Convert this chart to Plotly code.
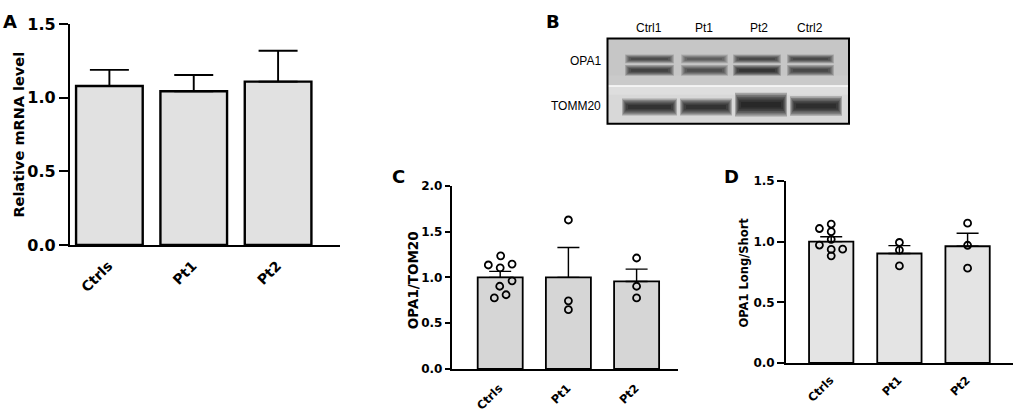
import plotly.graph_objects as go

W, H = 1017, 413

groups = ["Ctrls", "Pt1", "Pt2"]

# panel A - relative mRNA level
mrna_mean = [1.08, 1.045, 1.11]
mrna_sem = [0.11, 0.11, 0.21]

# panel C - OPA1/TOM20
c_mean = [1.0, 1.0, 0.955]
c_sem = [0.065, 0.325, 0.135]
c_ctrls = [1.135, 1.235, 1.104, 1.145, 0.962, 0.903, 0.775, 0.81]
c_pt1 = [1.626, 0.744, 0.647]
c_pt2 = [1.211, 0.903, 0.775]

# panel D - OPA1 long/short
d_mean = [1.0, 0.902, 0.962]
d_sem = [0.04, 0.065, 0.107]
d_ctrls = [1.108, 1.145, 1.082, 1.019, 0.972, 0.938, 0.936, 0.883]
d_pt1 = [0.993, 0.930, 0.800]
d_pt2 = [1.152, 0.970, 0.781]

# panel B - blot lanes and relative band darkness
lanes = ["Ctrl1", "Pt1", "Pt2", "Ctrl2"]
opa1_long = [0.8, 0.6, 0.85, 0.85]
opa1_short = [0.85, 0.7, 1.0, 0.8]
tomm20 = [0.85, 0.85, 1.0, 0.95]

# horizontal scatter offsets of the dots inside a bar
c_jit = [-0.174, 0.007, 0.0, 0.174, 0.174, -0.007, -0.086, 0.086]
d_jit = [-0.173, 0.0, 0.0, 0.0, -0.173, 0.168, 0.0, 0.0]


def px(x):
    return x / W


def py(y):
    return 1 - y / H


FONT = "DejaVu Sans"
xs = [0, 1, 2]

fig = go.Figure()


def bars(mean, sem, fill, lw, width, cap, ax):
    fig.add_trace(go.Bar(
        x=xs, y=mean, width=width,
        marker=dict(color=fill, line=dict(color="black", width=lw)),
        error_y=dict(type="data", array=sem, arrayminus=[0] * len(sem),
                     symmetric=False, color="black", thickness=lw * 0.8,
                     width=cap),
        xaxis="x" + ax, yaxis="y" + ax, showlegend=False, hoverinfo="skip",
    ))


def dots(vals, idx, jit, ax):
    xv = [idx + (jit[i] if jit else 0) for i in range(len(vals))]
    fig.add_trace(go.Scatter(
        x=xv, y=vals, mode="markers",
        marker=dict(symbol="circle-open", size=7, color="black",
                    line=dict(width=1.8, color="black")),
        xaxis="x" + ax, yaxis="y" + ax, showlegend=False, hoverinfo="skip",
    ))


bars(mrna_mean, mrna_sem, "#e1e1e1", 2.4, 0.79, 19.5, "")
bars(c_mean, c_sem, "#d6d6d6", 1.8, 0.66, 11, "2")
dots(c_ctrls, 0, c_jit, "2")
dots(c_pt1, 1, None, "2")
dots(c_pt2, 2, None, "2")
bars(d_mean, d_sem, "#e4e4e4", 1.8, 0.65, 11, "3")
dots(d_ctrls, 0, d_jit, "3")
dots(d_pt1, 1, None, "3")
dots(d_pt2, 2, None, "3")


def xax(dom, rng, fs, lw, anchor, shift, stand):
    return dict(domain=dom, range=rng, anchor=anchor, showgrid=False,
                zeroline=False, showline=True, linecolor="black",
                linewidth=lw, tickmode="array", tickvals=xs,
                ticktext=groups, tickangle=-45, ticks="",
                ticklabelshift=shift, ticklabelstandoff=stand,
                tickfont=dict(family=FONT, size=fs, color="black",
                              weight="bold"))


def yax(dom, rng, fs, lw, tl, anchor):
    return dict(domain=dom, range=rng, anchor=anchor, showgrid=False,
                zeroline=False, showline=True, linecolor="black",
                linewidth=lw, dtick=0.5, tickformat=".1f",
                ticks="outside", ticklen=tl, tickwidth=lw,
                tickcolor="black",
                tickfont=dict(family=FONT, size=fs, color="black",
                              weight="bold"))


fig.update_layout(
    width=W, height=H, margin=dict(l=0, r=0, t=0, b=0),
    plot_bgcolor="white", paper_bgcolor="white", barmode="overlay",
    xaxis=xax([px(70), px(340)], [-0.467, 2.734], 14, 2.4, "y", -1, 5),
    yaxis=yax([py(248), py(16)], [0, 1.5], 16, 2.4, 9, "x"),
    xaxis2=xax([px(451.7), px(678)], [-0.711, 2.607], 11.5, 1.8, "y2", -1, 6),
    yaxis2=yax([py(378.3), py(185.7)], [0, 2.0], 12, 1.8, 5, "x2"),
    xaxis3=xax([px(786), px(1013)], [-0.663, 2.666], 11.5, 1.8, "y3", -1, 4),
    yaxis3=yax([py(372), py(180.7)], [0, 1.5], 12, 1.8, 7, "x3"),
)

ann = []


def text(x, y, s, size, bold=True, angle=0, xanchor="center", family=FONT):
    ann.append(dict(x=px(x), y=py(y), xref="paper", yref="paper", text=s,
                    showarrow=False, textangle=angle, xanchor=xanchor,
                    yanchor="middle",
                    font=dict(family=family, size=size, color="black",
                              weight="bold" if bold else "normal")))


# panel letters
text(10, 13, "A", 18)
text(553, 13, "B", 18)
text(398, 176, "C", 18)
text(731.5, 176.5, "D", 18)

# y axis titles
text(19, 132, "Relative mRNA level", 14.5, angle=-90)
text(413, 285, "OPA1/TOM20", 13.5, angle=-90)
text(744, 277, "OPA1 Long/Short", 11.5, angle=-90)

# blot labels
lane_x = [649, 704, 758.7, 810]
for name, lx in zip(lanes, lane_x):
    text(lx, 20, name, 12, bold=False, family="Liberation Sans")
text(603, 55, "OPA1", 12, bold=False, xanchor="right", family="Liberation Sans")
text(603, 102, "TOMM20", 12, bold=False, xanchor="right", family="Liberation Sans")

fig.update_layout(annotations=ann)

shapes = []


def rect(x0, y0, x1, y1, fill, op=1.0):
    shapes.append(dict(type="rect", xref="paper", yref="paper",
                       x0=px(x0), x1=px(x1), y0=py(y1), y1=py(y0),
                       fillcolor=fill, opacity=op, layer="above",
                       line=dict(width=0)))


# soft band built from stacked translucent strips: (x pad, height factor)
BAND_LAYERS = [(3, 2.4), (2, 2.0), (1, 1.6), (0, 1.25), (-1, 0.9), (-3, 0.55)]


def band(x0, x1, yc, h, k, base):
    for pad, grow in BAND_LAYERS:
        hh = h * grow / 2
        rect(x0 - pad, yc - hh, x1 + pad, yc + hh, "#0a0a0a", op=base * k)


# blot background
rect(607.5, 31, 849, 80, "#c6c6c6")
rect(607.5, 70, 849, 80, "#cacaca")
rect(607.5, 80, 849, 82, "#f4f4f4")
rect(607.5, 82, 849, 120.5, "#d8d8d8")
rect(607.5, 82, 849, 90, "#dedede")

opa_x = [(628, 671), (684, 725), (736, 778), (790, 831)]
tom_x = [(625, 674), (683, 729), (738, 784), (793, 839)]
tom_y = [103, 103, 100.5, 102]
tom_h = [7.5, 7.5, 10.5, 8.5]
for i in range(4):
    band(opa_x[i][0], opa_x[i][1], 52.5, 3.8, opa1_long[i], 0.2)
    band(opa_x[i][0], opa_x[i][1], 64.5, 4.8, opa1_short[i], 0.21)
    band(tom_x[i][0], tom_x[i][1], tom_y[i], tom_h[i], tomm20[i], 0.27)

# blot frame
shapes.append(dict(type="rect", xref="paper", yref="paper",
                   x0=px(607.5), x1=px(849), y0=py(120.5), y1=py(31),
                   line=dict(color="black", width=2)))

fig.update_layout(shapes=shapes)

# drop the default page margin so the figure sits at the window origin
fig.write_html("out.html", config={"displayModeBar": False},
               post_script="document.body.style.margin='0px';")
